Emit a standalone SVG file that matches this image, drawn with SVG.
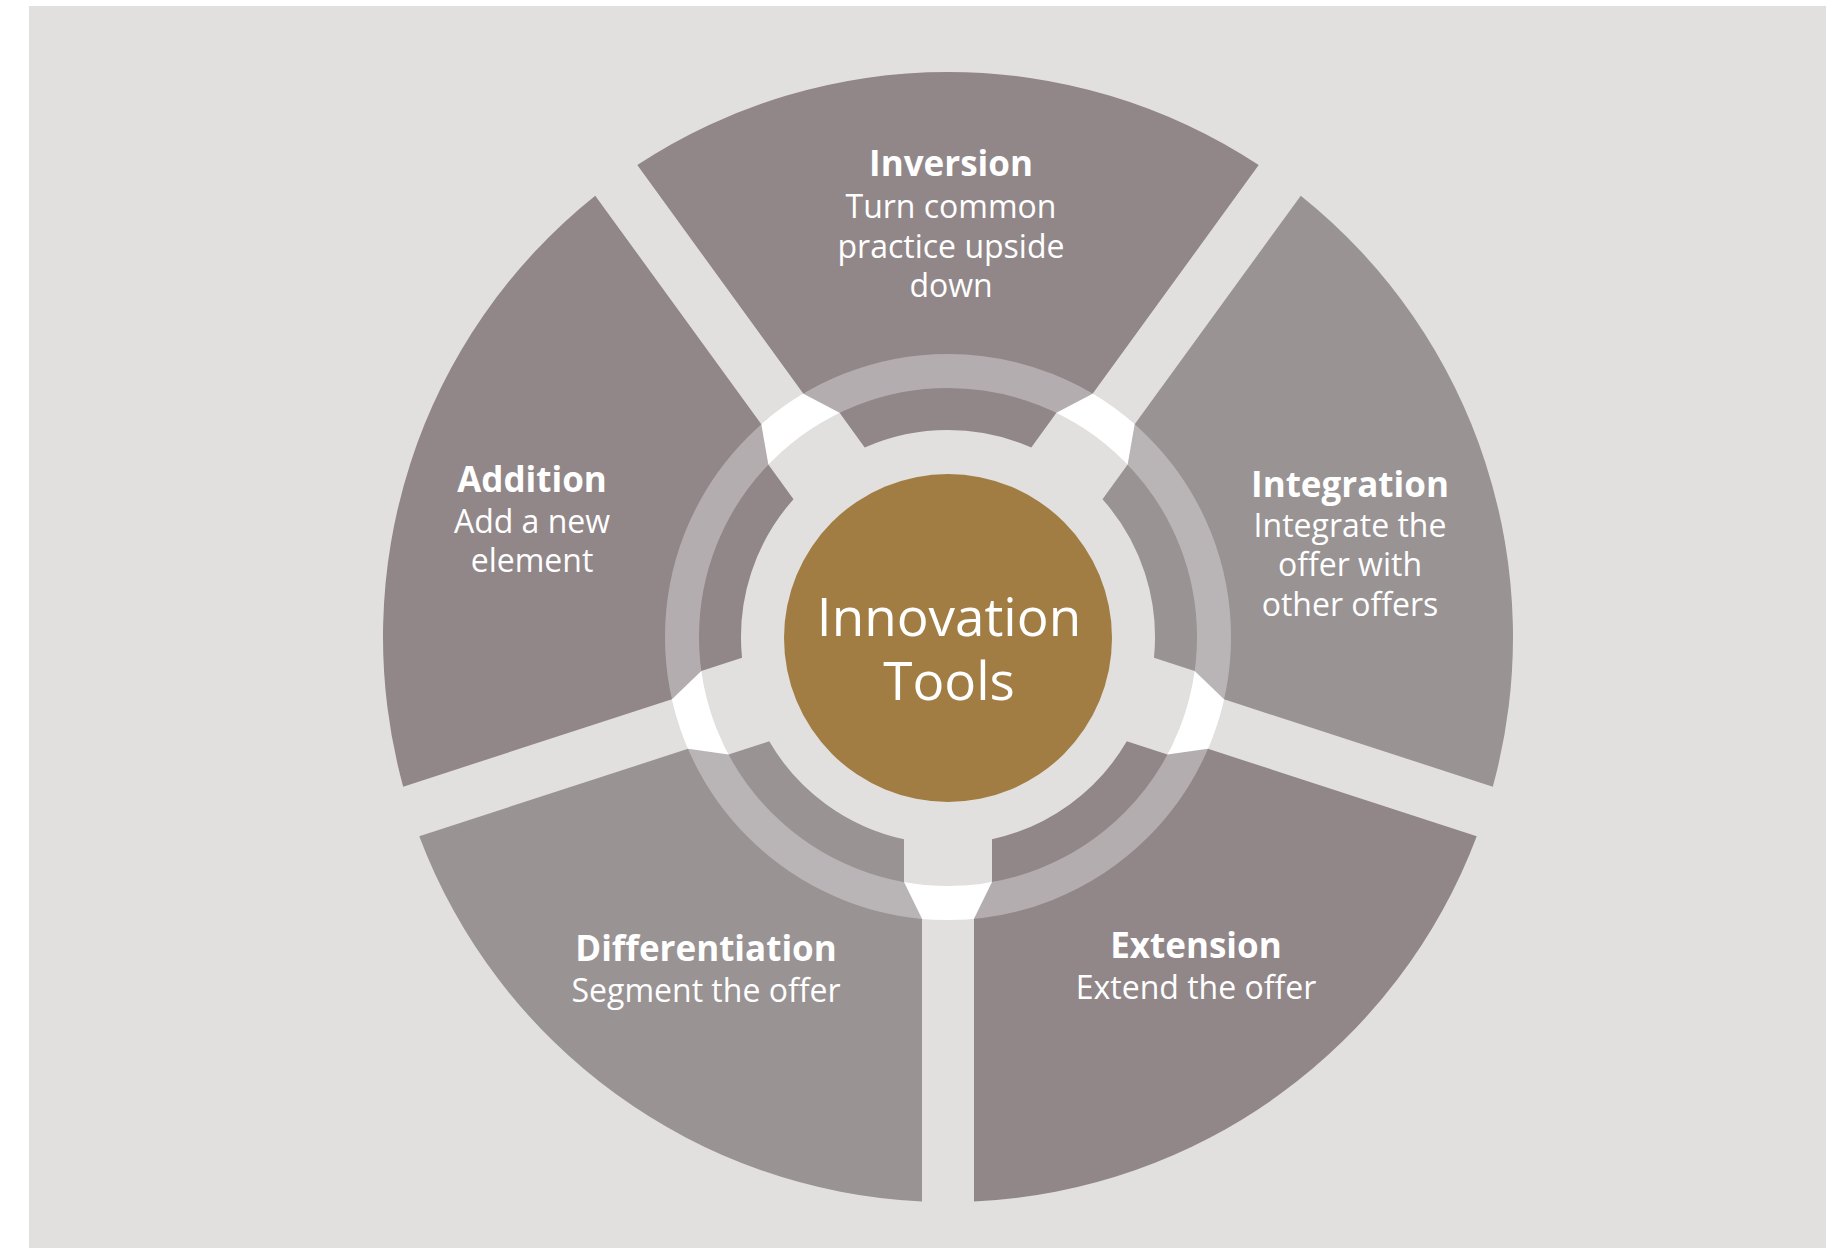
<svg xmlns="http://www.w3.org/2000/svg" width="1837" height="1248" viewBox="0 0 1837 1248">
  <style>
    .dark { fill: #918789; }
    .light { fill: #999394; }
    .title { font-family: "Open Sans", "Noto Sans", sans-serif; font-weight: bold; font-size: 35px; fill: #ffffff; text-anchor: middle; }
    .body { font-family: "Open Sans", "Noto Sans", sans-serif; font-size: 32px; fill: #ffffff; text-anchor: middle; }
    .center { font-family: "Open Sans", "Noto Sans", sans-serif; font-size: 53px; fill: #ffffff; text-anchor: middle; }
  </style>
  <rect x="0" y="0" width="1837" height="1248" fill="#ffffff"/>
  <rect x="29" y="6" width="1797" height="1242" fill="#e2e0de"/>
  <circle cx="948" cy="637" r="266" fill="none" stroke="#ffffff" stroke-width="34"/>

  <g id="inversion">
    <path class="dark" d="M 637.29,165.11 L 803.39,393.74 L 839.55,412.87 L 864.71,447.50 A 207 207 0 0 1 1031.29,447.50 L 1056.45,412.87 L 1092.61,393.74 L 1258.71,165.11 A 565 565 0 0 0 637.29,165.11 Z"/>
    <text class="title" x="951" y="176">Inversion</text>
    <text class="body" x="951" y="218">Turn common</text>
    <text class="body" x="951" y="258">practice upside</text>
    <text class="body" x="951" y="297">down</text>
  </g>
  <g id="integration">
    <path class="light" d="M 1300.77,195.67 L 1134.67,424.30 L 1127.65,464.59 L 1102.49,499.22 A 207 207 0 0 1 1153.97,657.66 L 1194.68,670.88 L 1224.04,699.35 L 1492.81,786.68 A 565 565 0 0 0 1300.77,195.67 Z"/>
    <text class="title" x="1350" y="497">Integration</text>
    <text class="body" x="1350" y="537">Integrate the</text>
    <text class="body" x="1350" y="576">offer with</text>
    <text class="body" x="1350" y="616">other offers</text>
  </g>
  <g id="extension">
    <path class="dark" d="M 1476.75,836.14 L 1207.98,748.81 L 1167.48,754.58 L 1126.77,741.36 A 207 207 0 0 1 992,839.27 L 992,882.08 L 974,918.80 L 974,1201.40 A 565 565 0 0 0 1476.75,836.14 Z"/>
    <text class="title" x="1196" y="958">Extension</text>
    <text class="body" x="1196" y="999">Extend the offer</text>
  </g>
  <g id="differentiation">
    <path class="light" d="M 922,1201.40 L 922,918.80 L 904,882.08 L 904,839.27 A 207 207 0 0 1 769.23,741.36 L 728.52,754.58 L 688.02,748.81 L 419.25,836.14 A 565 565 0 0 0 922,1201.40 Z"/>
    <text class="title" x="706" y="961">Differentiation</text>
    <text class="body" x="706" y="1002">Segment the offer</text>
  </g>
  <g id="addition">
    <path class="dark" d="M 403.19,786.68 L 671.96,699.35 L 701.32,670.88 L 742.03,657.66 A 207 207 0 0 1 793.51,499.22 L 768.35,464.59 L 761.33,424.30 L 595.23,195.67 A 565 565 0 0 0 403.19,786.68 Z"/>
    <text class="title" x="532" y="492">Addition</text>
    <text class="body" x="532" y="533">Add a new</text>
    <text class="body" x="532" y="572">element</text>
  </g>

  <circle cx="948" cy="637" r="266" fill="none" stroke="#ffffff" stroke-opacity="0.32" stroke-width="34"/>

  <g id="innovation-tools">
    <circle cx="948" cy="638" r="164" fill="#a17d43"/>
    <text class="center" x="949" y="636">Innovation</text>
    <text class="center" x="949" y="700">Tools</text>
  </g>
</svg>
